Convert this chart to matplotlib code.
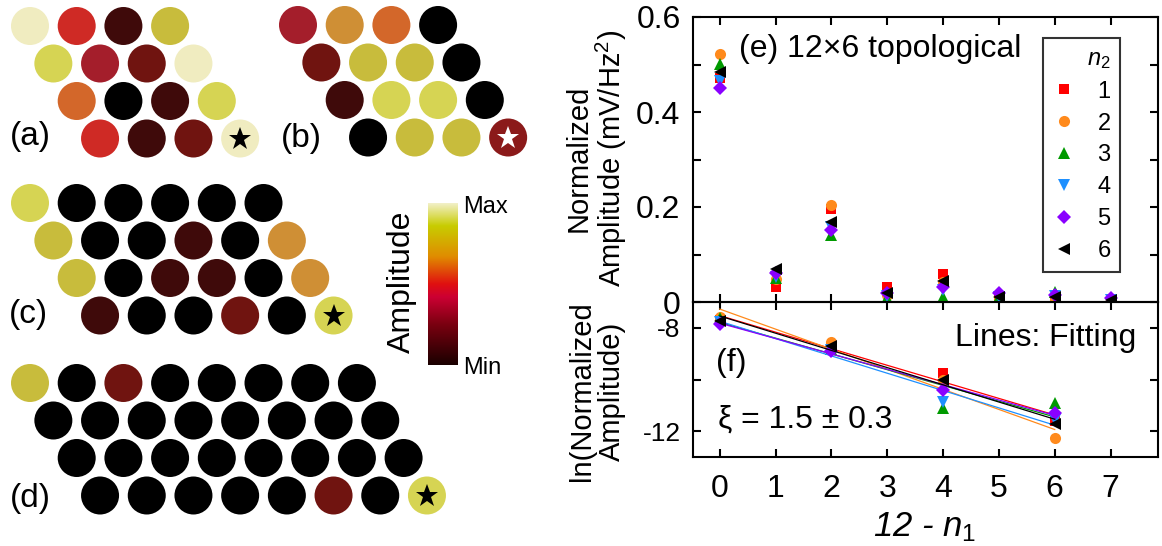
import numpy as np
import matplotlib
matplotlib.use("Agg")
import matplotlib.pyplot as plt
from matplotlib.patches import Circle
from matplotlib.colors import LinearSegmentedColormap

plt.rcParams["font.family"] = ["Liberation Sans", "DejaVu Sans"]
plt.rcParams["mathtext.fontset"] = "custom"
plt.rcParams["mathtext.rm"] = "Liberation Sans"
plt.rcParams["mathtext.it"] = "Liberation Sans:italic"

W, H = 1162, 546

# amplitude level of each site (index into level_colors), rows top to bottom
level_colors = ["#000000", "#3f0a0a", "#701410", "#a41e2b", "#cf2a25", "#d3672a",
                "#cf8f35", "#c8bc3c", "#d6d453", "#f0ecc0", "#8b1a1a"]
lattice_a = [[9, 4, 1, 7], [8, 3, 2, 9], [5, 0, 1, 8], [4, 1, 2, 9]]
lattice_b = [[3, 6, 5, 0], [2, 7, 7, 0], [1, 8, 8, 0], [0, 7, 7, 10]]
lattice_c = [[8, 0, 0, 0, 0, 0], [7, 0, 0, 1, 0, 6],
             [7, 0, 1, 1, 0, 6], [1, 0, 0, 2, 0, 8]]
lattice_d = [[7, 0, 2, 0, 0, 0, 0, 0], [0] * 8, [0] * 8,
             [0, 0, 0, 0, 0, 2, 0, 8]]

# colour bar stops (fraction, colour)
cbar_stops = [(0.0, "#1a0000"), (0.25, "#7a0010"), (0.42, "#cc0033"),
              (0.5, "#e01010"), (0.67, "#e08c00"), (0.86, "#c8cc00"),
              (1.0, "#f2f0c8")]

# panel (e): normalized amplitude vs 12 - n1, one list per n2
shift = [0, 1, 2, 3, 4, 5, 6, 7]
amp_1 = [0.472, 0.031, 0.195, 0.032, 0.060, 0.005, 0.006, 0.004]
amp_2 = [0.522, 0.048, 0.204, 0.015, 0.043, 0.006, 0.004, 0.004]
amp_3 = [0.501, 0.050, 0.141, 0.008, 0.011, 0.010, 0.022, 0.004]
amp_4 = [0.466, 0.053, 0.158, 0.012, 0.025, 0.010, 0.012, 0.004]
amp_5 = [0.450, 0.062, 0.152, 0.019, 0.032, 0.020, 0.015, 0.008]
amp_6 = [0.485, 0.069, 0.169, 0.020, 0.045, 0.011, 0.010, 0.005]

# panel (f): ln of normalized amplitude
shift_f = [0, 2, 4, 6]
ln_1 = [-7.68, -8.75, -9.75, -11.62]
ln_2 = [-7.58, -8.56, -10.00, -12.28]
ln_3 = [-7.62, -8.82, -11.12, -10.92]
ln_4 = [-7.76, -8.84, -10.88, -11.55]
ln_5 = [-7.84, -8.88, -10.40, -11.30]
ln_6 = [-7.72, -8.70, -10.02, -11.72]

n2_labels = ["1", "2", "3", "4", "5", "6"]
amps = [amp_1, amp_2, amp_3, amp_4, amp_5, amp_6]
lns = [ln_1, ln_2, ln_3, ln_4, ln_5, ln_6]
colors = ["#ff0000", "#ff8a1c", "#009a00", "#1e90ff", "#8a00ff", "#000000"]
markers = ["s", "o", "^", "v", "D", "<"]
msizes = [7, 8, 8, 8, 7, 8]


def draw_lattice(ax, levels, x0, y0, star_color):
    dx, dy, r = 46.7, 37.5, 19
    for i, row in enumerate(levels):
        for j, lv in enumerate(row):
            cx = x0 + j * dx + i * dx / 2
            cy = y0 + i * dy
            ax.add_patch(Circle((cx, cy), r, facecolor=level_colors[lv], lw=0))
    ax.plot(cx, cy, marker="*", ms=17, color=star_color, mew=0)


fig = plt.figure(figsize=(W / 100, H / 100), dpi=100)
bg = fig.add_axes([0, 0, 1, 1])
bg.set_xlim(0, W)
bg.set_ylim(H, 0)
bg.axis("off")

draw_lattice(bg, lattice_a, 30, 26, "black")
draw_lattice(bg, lattice_b, 298, 25, "white")
draw_lattice(bg, lattice_c, 30, 203, "black")
draw_lattice(bg, lattice_d, 30, 383, "black")
for lbl, x, y in [("(a)", 30, 136), ("(b)", 301, 138), ("(c)", 28, 314), ("(d)", 30, 498)]:
    bg.text(x, y, lbl, fontsize=24, ha="center", va="center")

# colour bar
cmap = LinearSegmentedColormap.from_list("amp", cbar_stops)
cax = fig.add_axes([428 / W, 1 - 365 / H, 30 / W, 162 / H])
cax.imshow(np.linspace(0, 1, 256)[:, None], aspect="auto", cmap=cmap, origin="lower")
cax.axis("off")
bg.text(402, 282, "Amplitude", fontsize=23, rotation=90, ha="center", va="center")
bg.text(463, 207, "Max", fontsize=17, ha="left", va="center")
bg.text(463, 368, "Min", fontsize=17, ha="left", va="center")

# right panels
left, right = 693, 1158
ax_e = fig.add_axes([left / W, 1 - 302 / H, (right - left) / W, 285 / H])
ax_f = fig.add_axes([left / W, 1 - 457 / H, (right - left) / W, 155 / H])

for k in range(6):
    ax_e.plot(shift, amps[k], ls="none", marker=markers[k], ms=msizes[k],
              color=colors[k], mew=0, label=n2_labels[k])
    ax_f.plot(shift_f, lns[k], ls="none", marker=markers[k], ms=msizes[k],
              color=colors[k], mew=0)
    slope, icpt = np.polyfit(shift_f, lns[k], 1)
    xs = np.array([shift_f[0], shift_f[-1]])
    ax_f.plot(xs, slope * xs + icpt, color=colors[k], lw=0.9)

for ax in (ax_e, ax_f):
    ax.set_xlim(-0.48, 7.85)
    ax.set_xticks(shift)
    ax.set_facecolor("none")
    for sp in ax.spines.values():
        sp.set_linewidth(1.5)
    ax.tick_params(direction="in", length=6, width=1.5, top=True, right=True,
                   labelsize=23, pad=9)

ax_e.set_ylim(0, 0.6)
ax_e.set_yticks([0, 0.1, 0.2, 0.3, 0.4, 0.5, 0.6])
ax_e.set_yticklabels(["0", "", "0.2", "", "0.4", "", "0.6"])
ax_e.tick_params(labelbottom=False)

ax_f.set_ylim(-13.0, -7.0)
ax_f.set_yticks([-12, -10, -8])
ax_f.set_yticklabels(["-12", "", "-8"])
ax_f.tick_params(axis="y", labelsize=19)
ax_f.tick_params(axis="x", pad=12)

leg = ax_e.legend(title="$n_2$", loc="upper left", bbox_to_anchor=(0.753, 0.925),
                  borderaxespad=0, fontsize=17, title_fontsize=17, frameon=True,
                  fancybox=False, edgecolor="black", labelspacing=0.42,
                  handlelength=1.0, handletextpad=0.9, borderpad=0.4,
                  alignment="right")
leg.get_frame().set_linewidth(1.5)

bg.text(739, 49, "(e) 12×6 topological", fontsize=23, ha="left", va="center")
bg.text(1136, 338, "Lines: Fitting", fontsize=23, ha="right", va="center")
bg.text(716, 363, "(f)", fontsize=23, ha="left", va="center")
bg.text(718, 420, "ξ = 1.5 ± 0.3", fontsize=23, ha="left", va="center")

bg.text(597, 158, "Normalized\nAmplitude (mV/Hz$^2$)", fontsize=21, rotation=90,
        ha="center", va="center", linespacing=1.05)
bg.text(597, 391, "ln(Normalized\nAmplitude)", fontsize=21, rotation=90,
        ha="center", va="center", linespacing=1.05)
bg.text(925, 527, "12 - $n_{\\mathit{1}}$", fontsize=25, style="italic",
        ha="center", va="center")

fig.savefig("out.png", dpi=100)
